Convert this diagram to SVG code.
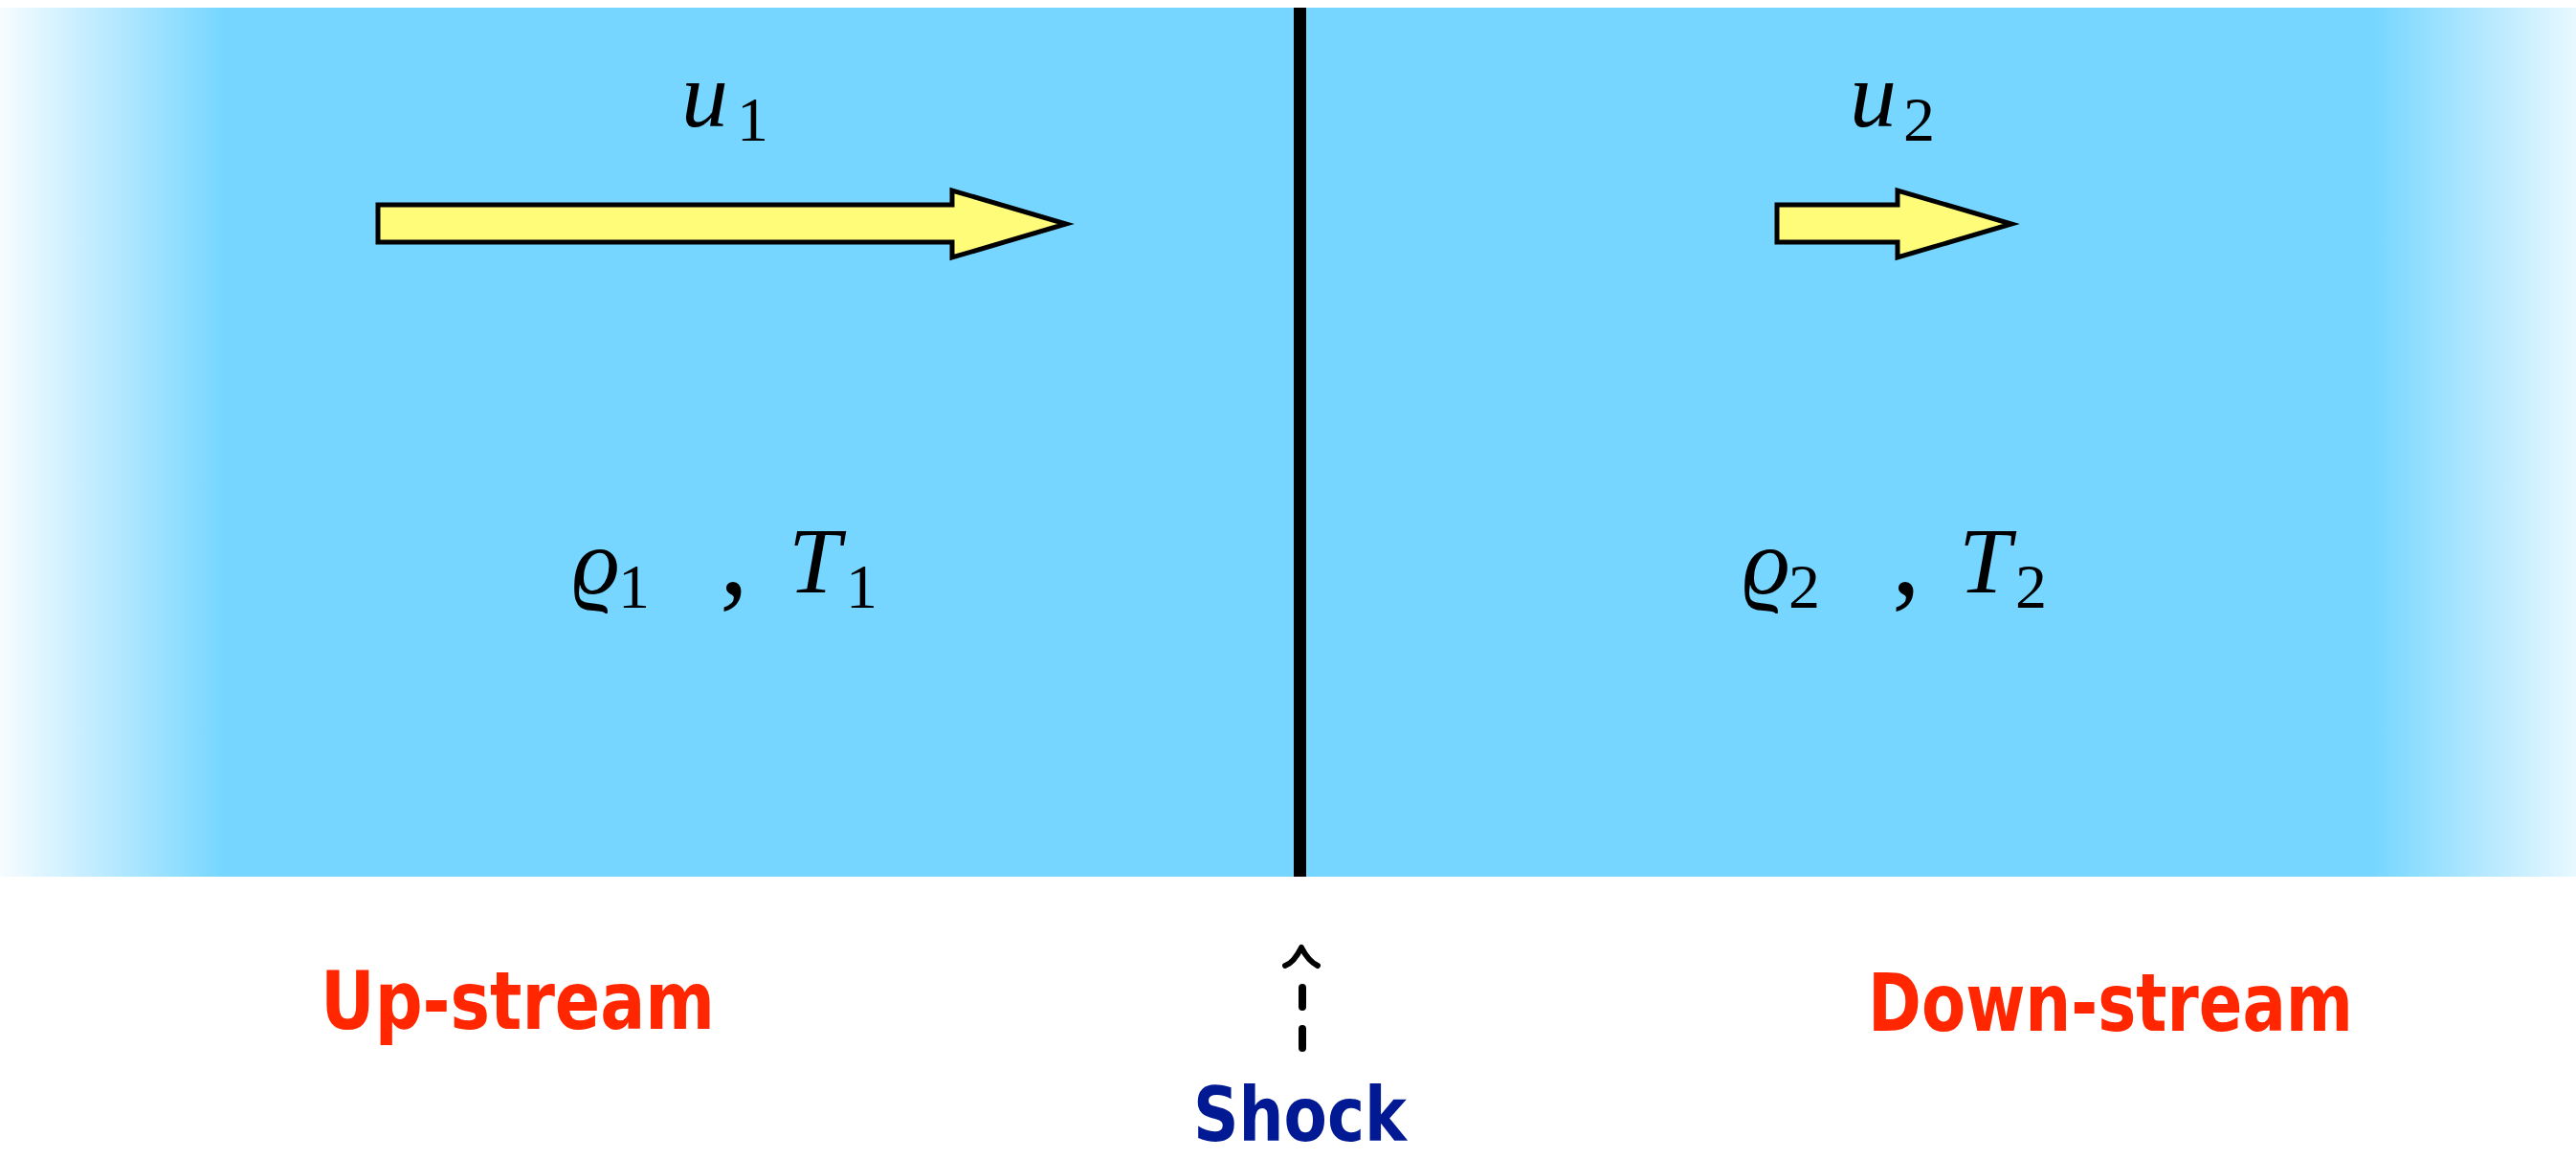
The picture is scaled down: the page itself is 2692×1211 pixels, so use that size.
<svg xmlns="http://www.w3.org/2000/svg" width="2692" height="1211" viewBox="0 0 2692 1211">
  <style>
    .math { font-family: "Liberation Serif", "DejaVu Serif", serif; fill: #000; }
    .it { font-style: italic; font-size: 98px; }
    .sub { font-style: normal; font-size: 66px; }
    .cm { font-style: normal; font-size: 120px; }
    .lbl { font-family: "Comic Sans MS", "DejaVu Sans", sans-serif; font-weight: bold; }
    .arrow { fill: #FFFC79; stroke: #000; stroke-width: 5; stroke-linejoin: miter; }
  </style>
  <defs>
    <linearGradient id="flow" x1="0" y1="0" x2="2692" y2="0" gradientUnits="userSpaceOnUse">
      <stop offset="0" stop-color="#F7FCFF"/>
      <stop offset="0.087" stop-color="#76D6FF"/>
      <stop offset="0.921" stop-color="#76D6FF"/>
      <stop offset="1" stop-color="#E8F8FF"/>
    </linearGradient>
  </defs>
  <rect width="2692" height="1211" fill="#FFFFFF"/>
  <g id="flow-region">
    <rect x="0" y="8" width="2692" height="908" fill="url(#flow)"/>
  </g>
  <g id="shock-front">
    <rect x="1352" y="8" width="13" height="908" fill="#000"/>
  </g>
  <g id="arrow-u1">
    <polygon class="arrow" points="395,214 995,214 995,199 1114,234 995,269 995,253 395,253"/>
    <text class="math it" x="712" y="132">u</text>
    <text class="math sub" x="770" y="147">1</text>
  </g>
  <g id="arrow-u2">
    <polygon class="arrow" points="1857,214 1983,214 1983,199 2102,234 1983,269 1983,253 1857,253"/>
    <text class="math it" x="1933" y="132">u</text>
    <text class="math sub" x="1989" y="147">2</text>
  </g>
  <g id="state-1">
    <text class="math it" x="598" y="620">ϱ</text>
    <text class="math sub" x="646" y="635">1</text>
    <text class="math cm" x="752" y="620">,</text>
    <text class="math it" x="824" y="619">T</text>
    <text class="math sub" x="884" y="635">1</text>
  </g>
  <g id="state-2">
    <text class="math it" x="1821" y="620">ϱ</text>
    <text class="math sub" x="1869" y="635">2</text>
    <text class="math cm" x="1977" y="620">,</text>
    <text class="math it" x="2047" y="619">T</text>
    <text class="math sub" x="2106" y="635">2</text>
  </g>
  <g id="upstream-label">
    <text class="lbl" x="335" y="1075" font-size="84" fill="#FF2600" textLength="412" lengthAdjust="spacingAndGlyphs">Up-stream</text>
  </g>
  <g id="downstream-label">
    <text class="lbl" x="1952" y="1077" font-size="84" fill="#FF2600" textLength="507" lengthAdjust="spacingAndGlyphs">Down-stream</text>
  </g>
  <g id="shock-label">
    <text class="lbl" x="1247" y="1192" font-size="78" fill="#011993" textLength="223" lengthAdjust="spacingAndGlyphs">Shock</text>
  </g>
  <g id="connectors">
    <path d="M1361,1095 L1361,1028" fill="none" stroke="#000" stroke-width="8" stroke-linecap="round" stroke-dasharray="20,23"/>
    <path d="M1343,1009 Q1352,1006 1360,990 Q1367,1004 1377,1009" fill="none" stroke="#000" stroke-width="6" stroke-linecap="round" stroke-linejoin="round"/>
  </g>
</svg>
